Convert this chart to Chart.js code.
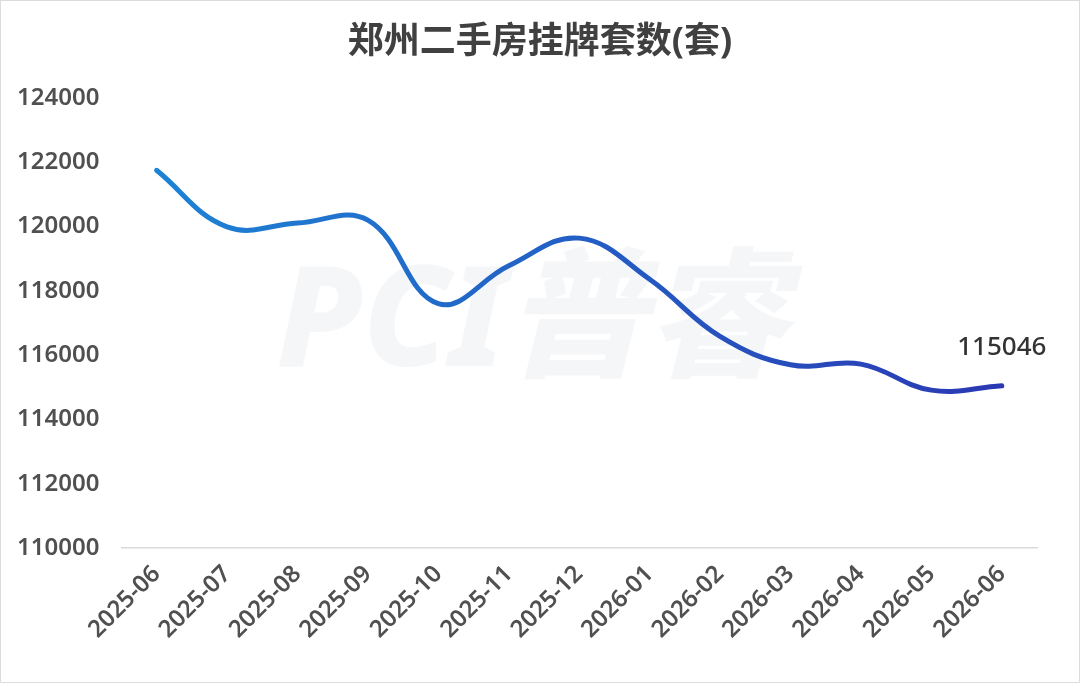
<!DOCTYPE html>
<html lang="zh">
<head>
  <meta charset="UTF-8" />
  <title>郑州二手房挂牌套数</title>
  <style>
    html, body {
      margin: 0;
      padding: 0;
      background: #fff;
    }
    .card {
      width: 1078px;
      height: 681px;
      border: 1px solid #dcdcdc;
      background: #fff;
    }
  </style>
</head>
<body>
  <div class="card">
    <canvas id="chart" width="1078" height="681"></canvas>
  </div>

  <script src="https://cdn.jsdelivr.net/npm/chart.js"></script>
  <script>
    const months = ['2025-06', '2025-07', '2025-08', '2025-09', '2025-10', '2025-11', '2025-12',
                    '2026-01', '2026-02', '2026-03', '2026-04', '2026-05', '2026-06'];
    const listings = [121750, 119990, 120110, 120200, 117600, 118780, 119640,
                      118360, 116580, 115700, 115720, 114910, 115046];
    const yTicks = [110000, 112000, 114000, 116000, 118000, 120000, 122000, 124000];
    const chartTitle = '郑州二手房挂牌套数(套)';

    const FONT = '"Noto Sans", "Open Sans", "Noto Sans CJK SC", sans-serif';

    // title centred on the whole card, not on the padded box
    const cardTitle = {
      id: 'cardTitle',
      afterDraw(chart) {
        const { ctx } = chart;
        ctx.save();
        ctx.fillStyle = '#404040';
        ctx.font = 'bold 36px ' + FONT;
        ctx.textAlign = 'center';
        ctx.textBaseline = 'middle';
        ctx.fillText(chartTitle, chart.width / 2, 42);
        ctx.restore();
      }
    };

    // faint logo text behind the line
    const watermark = {
      id: 'watermark',
      beforeDatasetsDraw(chart) {
        const { ctx } = chart;
        ctx.save();
        ctx.fillStyle = 'rgba(238,240,244,0.6)';
        ctx.font = 'italic 800 140px ' + FONT;
        ctx.textAlign = 'center';
        ctx.textBaseline = 'middle';
        ctx.fillText('PCI普睿', 530, 325);
        ctx.restore();
      }
    };

    // value label above the last point only
    const lastLabel = {
      id: 'lastLabel',
      afterDatasetsDraw(chart) {
        const meta = chart.getDatasetMeta(0);
        const pt = meta.data[meta.data.length - 1];
        const { ctx } = chart;
        ctx.save();
        ctx.fillStyle = '#333';
        ctx.font = '500 26px ' + FONT;
        ctx.textAlign = 'center';
        ctx.textBaseline = 'middle';
        ctx.fillText(String(listings[listings.length - 1]), pt.x, pt.y - 38);
        ctx.restore();
      }
    };

    new Chart(document.getElementById('chart'), {
      type: 'line',
      data: {
        labels: months,
        datasets: [{
          data: listings,
          borderWidth: 5,
          tension: 0.4,
          pointRadius: 0,
          borderCapStyle: 'round',
          borderColor(context) {
            const area = context.chart.chartArea;
            if (!area) return '#1f7fd2';
            const g = context.chart.ctx.createLinearGradient(area.left, 0, area.right, 0);
            g.addColorStop(0, '#1c86d6');
            g.addColorStop(1, '#2b36b2');
            return g;
          }
        }]
      },
      options: {
        responsive: false,
        animation: false,
        layout: { padding: { left: 2, right: 42, top: 97, bottom: 34 } },
        plugins: {
          legend: { display: false },
          tooltip: { enabled: false },
          title: { display: false }
        },
        scales: {
          x: {
            offset: true,
            grid: { display: false },
            border: { display: true, color: '#d9d9d9', width: 1.5 },
            ticks: {
              color: '#505050',
              font: { family: FONT, size: 24, weight: '600' },
              minRotation: 45,
              maxRotation: 45,
              padding: 4
            }
          },
          y: {
            min: yTicks[0],
            max: yTicks[yTicks.length - 1],
            afterBuildTicks(axis) {
              axis.ticks = yTicks.map(v => ({ value: v }));
            },
            grid: { display: false },
            border: { display: false },
            ticks: {
              color: '#505050',
              font: { family: FONT, size: 24, weight: '600' },
              padding: 14,
              callback: v => String(v)
            }
          }
        }
      },
      plugins: [watermark, lastLabel, cardTitle]
    });
  </script>
</body>
</html>
